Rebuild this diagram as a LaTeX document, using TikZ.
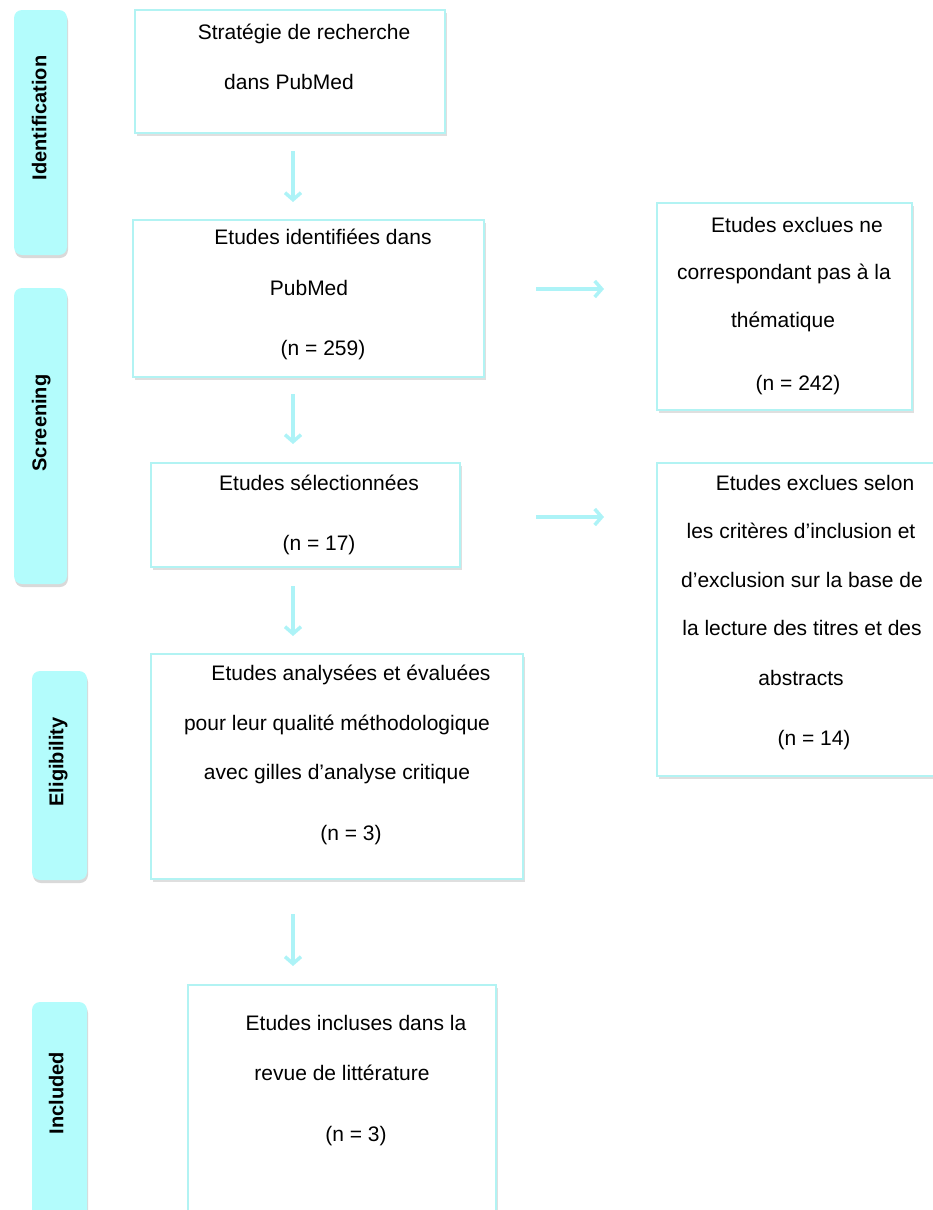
\documentclass[tikz,border=0pt]{standalone}
\usepackage{fontspec}
\setmainfont{Liberation Sans}
\usetikzlibrary{arrows.meta,shadows,calc}
\definecolor{phasefill}{HTML}{B3FCFC}
\definecolor{boxline}{HTML}{B2F3F3}
\definecolor{arrcol}{HTML}{ADF3F7}
\tikzset{
  stepbox/.style={draw=boxline, line width=2pt, fill=white, rectangle, inner sep=0pt,
     drop shadow={opacity=0.25, shadow xshift=2pt, shadow yshift=-3pt}},
  phase/.style={fill=phasefill, rounded corners=8pt, inner sep=0pt,
     drop shadow={opacity=0.3, shadow xshift=1pt, shadow yshift=-3pt}},
  phaselabel/.style={rotate=90, font=\bfseries\fontsize{20}{24}\selectfont, inner sep=0pt, text height=14.5pt, text depth=0pt},
  txt/.style={font=\fontsize{21}{25}\selectfont, inner sep=0pt, text height=15pt, text depth=0pt},
  flow/.style={draw=arrcol, line width=4pt, -{Straight Barb[length=7pt,width=16pt,line width=3.5pt]}},
}
\begin{document}
\begin{tikzpicture}[x=1pt,y=-1pt]
\useasboundingbox (0,0) rectangle (933,1210);
\begin{scope}
\clip (0,0) rectangle (933,1210);
% phase boxes
\node[phase, minimum width=53pt, minimum height=245pt] (pid) at (40.5,132.5) {};
\node[phase, minimum width=53pt, minimum height=296pt] (psc) at (40.5,436) {};
\node[phase, minimum width=55pt, minimum height=209pt] (pel) at (59.5,775.5) {};
\node[phase, minimum width=55pt, minimum height=236pt] (pin) at (59.5,1120) {};
\node[phaselabel] (lid) at (39,118) {Identification};
\node[phaselabel] (lsc) at (39,423) {Screening};
\node[phaselabel] (lel) at (56,762) {Eligibility};
\node[phaselabel] (lin) at (56,1093) {Included};

% main boxes
\node[stepbox, minimum width=310pt, minimum height=123pt] (b1) at (290,71.5) {};
\node[stepbox, minimum width=351pt, minimum height=157pt] (b2) at (308.5,298.5) {};
\node[stepbox, minimum width=309pt, minimum height=104pt] (b3) at (305.5,515) {};
\node[stepbox, minimum width=372pt, minimum height=225pt] (b4) at (337,766.5) {};
\node[stepbox, minimum width=308pt, minimum height=245pt] (b5) at (342,1107.5) {};
\node[stepbox, minimum width=255pt, minimum height=207pt] (ra) at (784.5,306.5) {};
\node[stepbox, minimum width=290pt, minimum height=313pt] (rb) at (802,619.5) {};

% texts
\node[txt] (t11) at (304,32) {Stratégie de recherche};
\node[txt] (t12) at (289,82) {dans PubMed};
\node[txt] (t21) at (323,237) {Etudes identifiées dans};
\node[txt] (t22) at (309,288) {PubMed};
\node[txt] (t23) at (323,348) {(n = 259)};
\node[txt] (t31) at (319,483) {Etudes sélectionnées};
\node[txt] (t32) at (319,543) {(n = 17)};
\node[txt] (t41) at (351,673) {Etudes analysées et évaluées};
\node[txt] (t42) at (337,723) {pour leur qualité méthodologique};
\node[txt] (t43) at (337,772) {avec gilles d’analyse critique};
\node[txt] (t44) at (351,833) {(n = 3)};
\node[txt] (t51) at (356,1023) {Etudes incluses dans la};
\node[txt] (t52) at (342,1073) {revue de littérature};
\node[txt] (t53) at (356,1134) {(n = 3)};
\node[txt] (ta1) at (797,225) {Etudes exclues ne};
\node[txt] (ta2) at (784,272) {correspondant pas à la};
\node[txt] (ta3) at (783,320) {thématique};
\node[txt] (ta4) at (798,383) {(n = 242)};
\node[txt] (tb1) at (815,483) {Etudes exclues selon};
\node[txt] (tb2) at (801,531) {les critères d’inclusion et};
\node[txt] (tb3) at (802,580) {d’exclusion sur la base de};
\node[txt] (tb4) at (802,628) {la lecture des titres et des};
\node[txt] (tb5) at (801,678) {abstracts};
\node[txt] (tb6) at (814,738) {(n = 14)};

% arrows
\coordinate (ax) at (293,0);
\coordinate (ya) at (0,289);
\coordinate (yb) at (0,517);
\draw[flow, shorten <=17pt, shorten >=17pt] (b1.south -| ax) -- (b2.north -| ax);
\draw[flow, shorten <=16pt, shorten >=18pt] (b2.south -| ax) -- (b3.north -| ax);
\draw[flow, shorten <=18pt, shorten >=17pt] (b3.south -| ax) -- (b4.north -| ax);
\draw[flow, shorten <=34pt, shorten >=18pt] (b4.south -| ax) -- (b5.north -| ax);
\draw[flow, shorten <=51pt, shorten >=52pt] (b2.east |- ya) -- (ra.west |- ya);
\draw[flow, shorten <=75pt, shorten >=52pt] (b3.east |- yb) -- (rb.west |- yb);
\end{scope}
\end{tikzpicture}
\end{document}
